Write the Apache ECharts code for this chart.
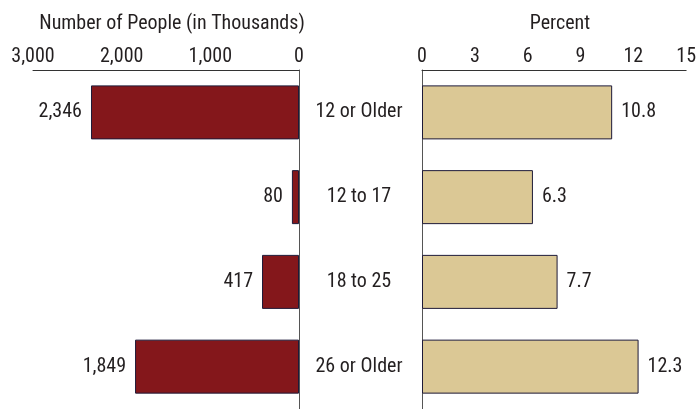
<!DOCTYPE html>
<html><head><meta charset="utf-8">
<script src="https://cdn.jsdelivr.net/npm/echarts@6/dist/echarts.min.js"></script>
<style>html,body{margin:0;padding:0;background:#fff}#c{width:699px;height:409px}</style>
</head><body><div id="c"></div>
<script>
const categories = ['12 or Older', '12 to 17', '18 to 25', '26 or Older'];
const peopleThousands = [2346, 80, 417, 1849];
const percentValues = [10.8, 6.3, 7.7, 12.3];
const leftTitle = 'Number of People (in Thousands)';
const rightTitle = 'Percent';

const FONT = "'Roboto Condensed','Liberation Sans Narrow','Arial Narrow',Roboto,sans-serif";
const FS = 20;
const TXT = '#231f20';
const chart = echarts.init(document.getElementById('c'), null, {renderer: 'canvas'});
chart.setOption({
  backgroundColor: '#ffffff',
  animation: false,
  textStyle: {fontFamily: FONT},
  title: [
    {text: leftTitle, left: 167, top: 9, textAlign: 'center',
     textStyle: {fontFamily: FONT, fontSize: FS, fontWeight: 'normal', color: TXT}},
    {text: rightTitle, left: 555, top: 9, textAlign: 'center',
     textStyle: {fontFamily: FONT, fontSize: FS, fontWeight: 'normal', color: TXT}}
  ],
  grid: [
    {left: 33, right: 400, top: 70, height: 342},
    {left: 422, right: 12, top: 70, height: 342}
  ],
  xAxis: [
    {gridIndex: 0, type: 'value', position: 'top', inverse: true, min: 0, max: 3000, interval: 1000,
     axisLine: {show: true, lineStyle: {color: '#333', width: 1}}, axisTick: {show: false},
     splitLine: {show: false},
     axisLabel: {fontFamily: FONT, fontSize: FS, color: TXT, margin: 3,
       formatter: v => v.toLocaleString('en-US')}},
    {gridIndex: 1, type: 'value', position: 'top', min: 0, max: 15, interval: 3,
     axisLine: {show: true, lineStyle: {color: '#333', width: 1}}, axisTick: {show: false},
     splitLine: {show: false},
     axisLabel: {fontFamily: FONT, fontSize: FS, color: TXT, margin: 3}}
  ],
  yAxis: [
    {gridIndex: 0, type: 'category', data: categories, inverse: true, position: 'right',
     axisLine: {show: true, onZero: false, lineStyle: {color: '#555', width: 1}}, axisTick: {show: false},
     axisLabel: {fontFamily: FONT, fontSize: FS, color: TXT, margin: 60, align: 'center',
       padding: [6, 0, 0, 0]}},
    {gridIndex: 1, type: 'category', data: categories, inverse: true, position: 'left',
     axisLine: {show: true, onZero: false, lineStyle: {color: '#555', width: 1}}, axisTick: {show: false},
     axisLabel: {show: false}}
  ],
  series: [
    {type: 'bar', xAxisIndex: 0, yAxisIndex: 0, data: peopleThousands, barWidth: 54,
     itemStyle: {color: '#84171b', borderColor: '#1e1a38', borderWidth: 1},
     label: {show: true, position: 'left', distance: 9, fontFamily: FONT, fontSize: FS, color: TXT,
       padding: [6, 0, 0, 0], formatter: p => p.value.toLocaleString('en-US')}},
    {type: 'bar', xAxisIndex: 1, yAxisIndex: 1, data: percentValues, barWidth: 54,
     itemStyle: {color: '#dbc895', borderColor: '#1e1a38', borderWidth: 1},
     label: {show: true, position: 'right', distance: 9, fontFamily: FONT, fontSize: FS, color: TXT,
       padding: [6, 0, 0, 0], formatter: p => p.value.toFixed(1)}}
  ]
});
</script></body></html>
